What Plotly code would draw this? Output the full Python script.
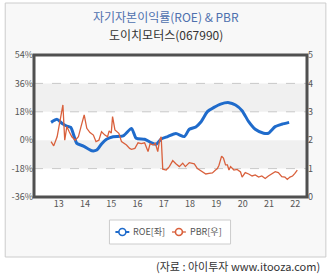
import plotly.graph_objects as go

# ROE (left axis, %)
roe_x = [12.71, 12.94, 13.12, 13.30, 13.46, 13.69, 13.94, 14.26, 14.45, 14.63, 14.82, 15.07,
         15.45, 15.77, 15.95, 16.27, 16.52, 16.71, 16.90, 17.15, 17.46, 17.78, 17.97, 18.22,
         18.41, 18.66, 18.91, 19.16, 19.48, 19.73, 19.98, 20.23, 20.48, 20.80, 20.98, 21.24,
         21.49, 21.77]
roe_vals = [11.3, 13.2, 10.7, 9.0, 8.1, -2.0, -3.7, -6.7, -6.2, -2.4, 0.6, 2.2,
            2.7, 7.5, 1.2, 0.6, -1.6, -2.6, 0.8, 2.3, 4.2, 2.3, 6.9, 8.4,
            11.5, 18.1, 20.8, 22.9, 23.8, 22.3, 18.7, 11.7, 6.9, 4.4, 4.4, 8.6,
            10.1, 11.3]

# PBR (right axis)
pbr_x = [12.71, 12.81, 12.94, 13.06, 13.16, 13.23, 13.31, 13.40, 13.50, 13.63, 13.75, 13.85,
         13.97, 14.07, 14.19, 14.32, 14.42, 14.53, 14.63, 14.76, 14.86, 14.92, 15.00, 15.05,
         15.14, 15.29, 15.39, 15.58, 15.70, 15.77, 15.90, 16.02, 16.14, 16.27, 16.40, 16.48,
         16.59, 16.68, 16.77, 16.84, 16.90, 16.96, 17.09, 17.21, 17.34, 17.46, 17.59, 17.72,
         17.82, 17.97, 18.16, 18.28, 18.47, 18.60, 18.72, 18.85, 18.97, 19.04, 19.10, 19.20,
         19.27, 19.35, 19.42, 19.48, 19.54, 19.67, 19.79, 19.92, 19.98, 20.10, 20.23, 20.36,
         20.48, 20.61, 20.73, 20.86, 20.98, 21.10, 21.24, 21.36, 21.49, 21.61, 21.70, 21.80,
         21.90, 21.99, 22.08]
pbr_vals = [1.95, 1.80, 2.12, 2.71, 3.24, 2.00, 2.48, 2.30, 2.12, 2.00, 2.12, 2.48,
            2.89, 2.42, 2.27, 2.18, 1.95, 2.00, 2.30, 2.18, 2.12, 2.33, 2.25, 2.83,
            2.36, 2.24, 1.95, 1.83, 1.71, 1.68, 1.71, 1.91, 1.88, 1.91, 1.60, 1.88,
            1.83, 1.89, 1.60, 2.00, 2.12, 0.98, 0.95, 1.07, 1.28, 1.17, 1.07, 1.19,
            1.07, 1.21, 1.17, 1.00, 0.89, 0.81, 0.83, 0.85, 0.95, 1.00, 1.12, 1.44,
            1.37, 1.13, 1.13, 0.95, 1.07, 0.95, 0.97, 0.88, 0.70, 0.86, 0.81, 0.74,
            0.78, 0.70, 0.74, 0.65, 0.74, 0.81, 0.89, 0.86, 0.72, 0.70, 0.62, 0.70,
            0.74, 0.83, 0.95]

x_ticks = [13, 14, 15, 16, 17, 18, 19, 20, 21, 22]
x_ticklabels = [str(v) for v in x_ticks]
left_ticks = [-36, -18, 0, 18, 36, 54]
left_ticklabels = [f"{v}%" for v in left_ticks]
right_ticks = [0, 1, 2, 3, 4, 5]
legend_names = ["ROE[좌]", "PBR[우]"]

BLUE = "#1F6BCB"
RED = "#D9603C"
FONT = "Noto Sans CJK KR"

fig = go.Figure()
fig.add_trace(go.Scatter(x=roe_x, y=roe_vals, mode="lines", line=dict(color=BLUE, width=3, shape="spline", smoothing=0.6),
                         showlegend=False, yaxis="y"))
fig.add_trace(go.Scatter(x=pbr_x, y=pbr_vals, mode="lines", line=dict(color=RED, width=1.3),
                         showlegend=False, yaxis="y2"))


def px_x(p):
    return (p - 32) / 275


def px_y(p):
    return (197 - p) / 142


shapes = [
    # outer panel
    dict(type="rect", xref="paper", yref="paper", x0=px_x(3), x1=px_x(326), y0=px_y(257), y1=px_y(3),
         line=dict(color="#CCCCCC", width=1), fillcolor="#F8F8F8", layer="below"),
    # plot background
    dict(type="rect", xref="paper", yref="paper", x0=0, x1=1, y0=0, y1=1,
         line=dict(width=0), fillcolor="white", layer="below"),
]
for lo, hi in [(18, 36), (-18, 0)]:
    shapes.append(dict(type="rect", xref="paper", yref="y", x0=0, x1=1, y0=lo, y1=hi,
                       line=dict(width=0), fillcolor="#F0F0F0", layer="below"))
for g in [36, 18, -18]:
    shapes.append(dict(type="line", xref="paper", yref="y", x0=0, x1=1, y0=g, y1=g,
                       line=dict(color="#C8C8C8", width=1, dash="dash"), layer="below"))
shapes.append(dict(type="rect", xref="paper", yref="paper", x0=0, x1=1, y0=0, y1=1,
                   line=dict(color="#505050", width=3), layer="above"))

# manual legend
shapes.append(dict(type="rect", xref="paper", yref="paper", x0=px_x(108), x1=px_x(230), y0=px_y(244), y1=px_y(220),
                   line=dict(color="#CCCCCC", width=1), fillcolor="white", layer="above"))
annotations = []
ly = 232
for cx, tx, col, lw, name in [(121, 130, BLUE, 2, legend_names[0]), (178, 187, RED, 1.3, legend_names[1])]:
    shapes.append(dict(type="line", xref="paper", yref="paper", x0=px_x(cx - 7), x1=px_x(cx + 7),
                       y0=px_y(ly), y1=px_y(ly), line=dict(color=col, width=lw), layer="above"))
    shapes.append(dict(type="circle", xref="paper", yref="paper", x0=px_x(cx - 3.5), x1=px_x(cx + 3.5),
                       y0=px_y(ly + 3.5), y1=px_y(ly - 3.5), line=dict(color=col, width=1.6),
                       fillcolor="white", layer="above"))
    annotations.append(dict(text=name, xref="paper", yref="paper", x=px_x(tx), y=px_y(ly),
                            xanchor="left", yanchor="middle", showarrow=False,
                            font=dict(size=9, color="#555555", family=FONT)))

annotations += [
    dict(text="자기자본이익률(ROE) & PBR", xref="paper", yref="paper", x=px_x(165), y=px_y(17),
         xanchor="center", yanchor="middle", showarrow=False, font=dict(size=12, color="#4E70AE", family=FONT)),
    dict(text="도이치모터스(067990)", xref="paper", yref="paper", x=px_x(165), y=px_y(34),
         xanchor="center", yanchor="middle", showarrow=False, font=dict(size=12, color="#333333", family=FONT)),
    dict(text="(자료 : 아이투자 www.itooza.com)", xref="paper", yref="paper", x=px_x(322), y=px_y(266),
         xanchor="right", yanchor="middle", showarrow=False, font=dict(size=11, color="#333333", family=FONT)),
]

fig.update_layout(
    width=329, height=275,
    margin=dict(l=32, r=22, t=55, b=78),
    paper_bgcolor="white", plot_bgcolor="rgba(0,0,0,0)",
    font=dict(family=FONT, size=9, color="#555555"),
    xaxis=dict(range=[12.06, 22.45], tickvals=x_ticks, ticktext=x_ticklabels, showgrid=False,
               zeroline=False, showline=False, ticks="", tickfont=dict(size=9, color="#555555")),
    yaxis=dict(range=[-36, 54], tickvals=left_ticks, ticktext=left_ticklabels, showgrid=False,
               zeroline=False, showline=False, ticks="", tickfont=dict(size=9, color="#555555")),
    yaxis2=dict(range=[0, 5], tickvals=right_ticks, overlaying="y", side="right", showgrid=False,
                zeroline=False, showline=False, ticks="", tickfont=dict(size=9, color="#555555")),
    showlegend=False,
    shapes=shapes,
    annotations=annotations,
)

fig.write_html("out.html")
